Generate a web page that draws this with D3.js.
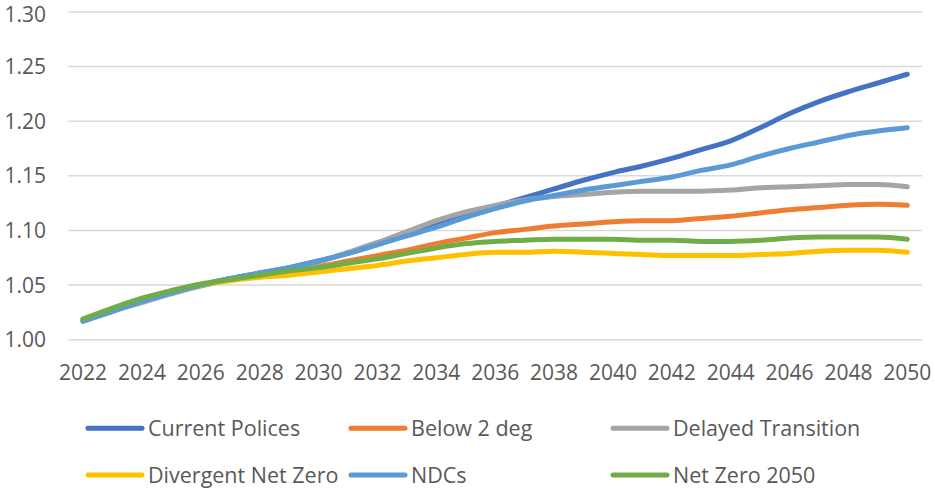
<!DOCTYPE html>
<html>
<head>
<meta charset="utf-8">
<script src="https://cdn.jsdelivr.net/npm/d3@7/dist/d3.min.js"></script>
<style>
  html, body { margin: 0; padding: 0; background: #ffffff; }
  svg { display: block; }
  text { font-family: "Open Sans", "Noto Sans", sans-serif; fill: #595959; }
</style>
</head>
<body>
<svg id="chart" width="935" height="490"></svg>
<script>
const years = [2022,2023,2024,2025,2026,2027,2028,2029,2030,2031,2032,2033,2034,2035,2036,2037,2038,2039,2040,2041,2042,2043,2044,2045,2046,2047,2048,2049,2050];
const xTickLabels = [2022,2024,2026,2028,2030,2032,2034,2036,2038,2040,2042,2044,2046,2048,2050];
const yTicks = [1.00,1.05,1.10,1.15,1.20,1.25,1.30];

const seriesNames = ["Current Polices","Below 2 deg","Delayed Transition","Divergent Net Zero","NDCs","Net Zero 2050"];
const seriesColors = ["#4472C4","#ED7D31","#A5A5A5","#FFC000","#5B9BD5","#70AD47"];

const currentPolices = [1.017,1.026,1.035,1.043,1.050,1.056,1.061,1.066,1.072,1.079,1.087,1.096,1.105,1.114,1.122,1.130,1.138,1.146,1.153,1.159,1.166,1.174,1.182,1.194,1.207,1.218,1.227,1.235,1.243];
const below2deg = [1.018,1.028,1.037,1.044,1.050,1.055,1.059,1.063,1.067,1.072,1.077,1.082,1.088,1.093,1.098,1.101,1.104,1.106,1.108,1.109,1.109,1.111,1.113,1.116,1.119,1.121,1.123,1.124,1.123];
const delayedTransition = [1.017,1.026,1.034,1.042,1.049,1.055,1.060,1.065,1.071,1.080,1.089,1.099,1.109,1.117,1.123,1.128,1.131,1.133,1.135,1.136,1.136,1.136,1.137,1.139,1.140,1.141,1.142,1.142,1.140];
const divergentNetZero = [1.018,1.028,1.037,1.044,1.050,1.054,1.057,1.059,1.062,1.065,1.068,1.072,1.075,1.078,1.080,1.080,1.081,1.080,1.079,1.078,1.077,1.077,1.077,1.078,1.079,1.081,1.082,1.082,1.080];
const ndcs = [1.017,1.026,1.035,1.043,1.050,1.056,1.061,1.066,1.072,1.079,1.087,1.095,1.103,1.112,1.120,1.127,1.132,1.137,1.141,1.145,1.149,1.155,1.160,1.168,1.175,1.181,1.187,1.191,1.194];
const netZero2050 = [1.019,1.029,1.038,1.045,1.051,1.055,1.059,1.063,1.066,1.070,1.074,1.079,1.084,1.088,1.090,1.091,1.092,1.092,1.092,1.091,1.091,1.090,1.090,1.091,1.093,1.094,1.094,1.094,1.092];

const seriesValues = [currentPolices, below2deg, delayedTransition, divergentNetZero, ndcs, netZero2050];

const svg = d3.select("#chart");
const plotLeft = 68.3, plotRight = 922, plotTop = 12, plotBottom = 339.7;

const x = d3.scalePoint().domain(years).range([plotLeft, plotRight]).padding(0.5);
const y = d3.scaleLinear().domain([1.0, 1.3]).range([plotBottom, plotTop]);

// gridlines
svg.append("g").selectAll("line").data(yTicks).join("line")
  .attr("x1", plotLeft).attr("x2", plotRight)
  .attr("y1", d => y(d)).attr("y2", d => y(d))
  .attr("stroke", "#D9D9D9").attr("stroke-width", 1.5);

// y axis labels
const yLabels = svg.append("g").selectAll("text").data(yTicks).join("text")
  .attr("x", 46).attr("y", d => y(d))
  .attr("dy", "0.36em")
  .attr("text-anchor", "end")
  .style("font-size", "21px")
  .text(d => d.toFixed(2));
// keep the topmost label's box inside the picture
yLabels.each(function(d) {
  const bb = this.getBBox();
  if (bb.y < 0) d3.select(this).attr("y", y(d) - bb.y);
});

// x axis labels
svg.append("g").selectAll("text").data(xTickLabels).join("text")
  .attr("x", d => x(d)).attr("y", 372.5)
  .attr("dy", "0.36em")
  .attr("text-anchor", "middle")
  .style("font-size", "21px")
  .text(d => d);

// lines
const line = d3.line()
  .x((d, i) => x(years[i]))
  .y(d => y(d))
  .curve(d3.curveMonotoneX);

svg.append("g").selectAll("path").data(seriesValues).join("path")
  .attr("d", d => line(d))
  .attr("fill", "none")
  .attr("stroke", (d, i) => seriesColors[i])
  .attr("stroke-width", 5)
  .attr("stroke-linecap", "round")
  .attr("stroke-linejoin", "round");

// legend
const legendCols = [86, 349, 611];
const legendRows = [428.3, 475];
const legend = svg.append("g");
seriesNames.forEach((name, i) => {
  const cx = legendCols[i % 3];
  const cy = legendRows[Math.floor(i / 3)];
  legend.append("line")
    .attr("x1", cx + 2).attr("x2", cx + 56)
    .attr("y1", cy).attr("y2", cy)
    .attr("stroke", seriesColors[i])
    .attr("stroke-width", 5)
    .attr("stroke-linecap", "round");
  legend.append("text")
    .attr("x", cx + 62).attr("y", cy)
    .attr("dy", "0.36em")
    .style("font-size", "21.5px")
    .text(name);
});
</script>
</body>
</html>
